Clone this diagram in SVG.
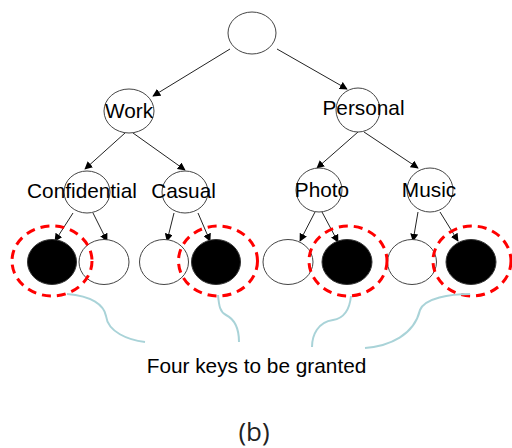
<svg xmlns="http://www.w3.org/2000/svg" width="512" height="448" viewBox="0 0 512 448">
<style>
.n{fill:#fff;stroke:#444;stroke-width:1}
.k{fill:#000;stroke:#333;stroke-width:1}
.t{font-family:"Liberation Sans",Arial,sans-serif;font-size:20.8px;fill:#000}
.e{stroke:#222;stroke-width:1;fill:none;marker-end:url(#ah)}
.r{fill:none;stroke:#ff0000;stroke-width:3;stroke-dasharray:9 6}
.c{fill:none;stroke:#a9d3d8;stroke-width:2}
</style>
<defs>
<marker id="ah" viewBox="0 0 10 10" refX="9" refY="5" markerWidth="8" markerHeight="8" markerUnits="userSpaceOnUse" orient="auto">
<path d="M0,0 L10,5 L0,10 z" fill="#000"/>
</marker>
</defs>
<rect width="512" height="448" fill="#fff"/>
<g id="connectors">
<line class="e" x1="230" y1="49" x2="153" y2="96"/>
<line class="e" x1="277" y1="49" x2="347" y2="89"/>
<line class="e" x1="125" y1="133" x2="85" y2="169"/>
<line class="e" x1="133" y1="133" x2="185" y2="170"/>
<line class="e" x1="358" y1="132" x2="317" y2="168"/>
<line class="e" x1="364" y1="132" x2="418" y2="168"/>
<line class="e" x1="73" y1="213" x2="55" y2="241"/>
<line class="e" x1="93" y1="213" x2="107" y2="241"/>
<line class="e" x1="174" y1="213" x2="167" y2="241"/>
<line class="e" x1="198" y1="213" x2="210" y2="241"/>
<line class="e" x1="315" y1="212" x2="300" y2="241"/>
<line class="e" x1="322" y1="212" x2="338" y2="242"/>
<line class="e" x1="418" y1="212" x2="413" y2="241"/>
<line class="e" x1="440" y1="212" x2="458" y2="241"/>
</g>
<g id="root"><ellipse class="n" cx="252" cy="33" rx="24" ry="21"/></g>
<g id="work"><ellipse class="n" cx="129" cy="111" rx="25" ry="22"/><text class="t" x="129" y="118" text-anchor="middle">Work</text></g>
<g id="personal"><ellipse class="n" cx="358" cy="110" rx="22" ry="22"/><text class="t" x="363.5" y="115" text-anchor="middle">Personal</text></g>
<g id="confidential"><ellipse class="n" cx="87" cy="192" rx="23" ry="21"/><text class="t" x="82" y="198" text-anchor="middle">Confidential</text></g>
<g id="casual"><ellipse class="n" cx="185" cy="192" rx="23" ry="21"/><text class="t" x="183.5" y="198" text-anchor="middle">Casual</text></g>
<g id="photo"><ellipse class="n" cx="319" cy="190" rx="23" ry="22"/><text class="t" x="322" y="197" text-anchor="middle">Photo</text></g>
<g id="music"><ellipse class="n" cx="430" cy="190" rx="23" ry="22"/><text class="t" x="429" y="197" text-anchor="middle">Music</text></g>
<g id="leaf1"><ellipse class="k" cx="52" cy="262" rx="24.5" ry="22.5"/></g>
<g id="leaf2"><ellipse class="n" cx="104" cy="262" rx="25" ry="22.5"/></g>
<g id="leaf3"><ellipse class="n" cx="164" cy="262" rx="24.5" ry="22.5"/></g>
<g id="leaf4"><ellipse class="k" cx="216" cy="262" rx="24.5" ry="22.5"/></g>
<g id="leaf5"><ellipse class="n" cx="288" cy="262" rx="25" ry="22.5"/></g>
<g id="leaf6"><ellipse class="k" cx="347" cy="262" rx="25" ry="22.5"/></g>
<g id="leaf7"><ellipse class="n" cx="412" cy="262" rx="24.5" ry="22.5"/></g>
<g id="leaf8"><ellipse class="k" cx="471" cy="262" rx="25" ry="22.5"/></g>
<g id="highlights">
<ellipse class="r" cx="52" cy="261" rx="40" ry="35"/>
<ellipse class="r" cx="218" cy="261" rx="39.5" ry="35"/>
<ellipse class="r" cx="348" cy="261" rx="39" ry="35"/>
<ellipse class="r" cx="472" cy="261" rx="39" ry="35"/>
</g>
<g id="callouts">
<path class="c" d="M67,294 C92,296 104,305 106,316 C108,332 128,340 145,342"/>
<path class="c" d="M218,295 C219,306 220,312 226,315 C236,320 239,330 239,342"/>
<path class="c" d="M351,296 C350,306 346,318 333,320 C318,322 312,335 312,347"/>
<path class="c" d="M470,294 C450,294 425,298 420,310 C414,335 390,346 365,348"/>
</g>
<text class="t" x="256.5" y="373" text-anchor="middle">Four keys to be granted</text>
<text x="254" y="441" text-anchor="middle" font-family="'Open Sans',sans-serif" font-size="26" fill="#222">(b)</text>
</svg>
